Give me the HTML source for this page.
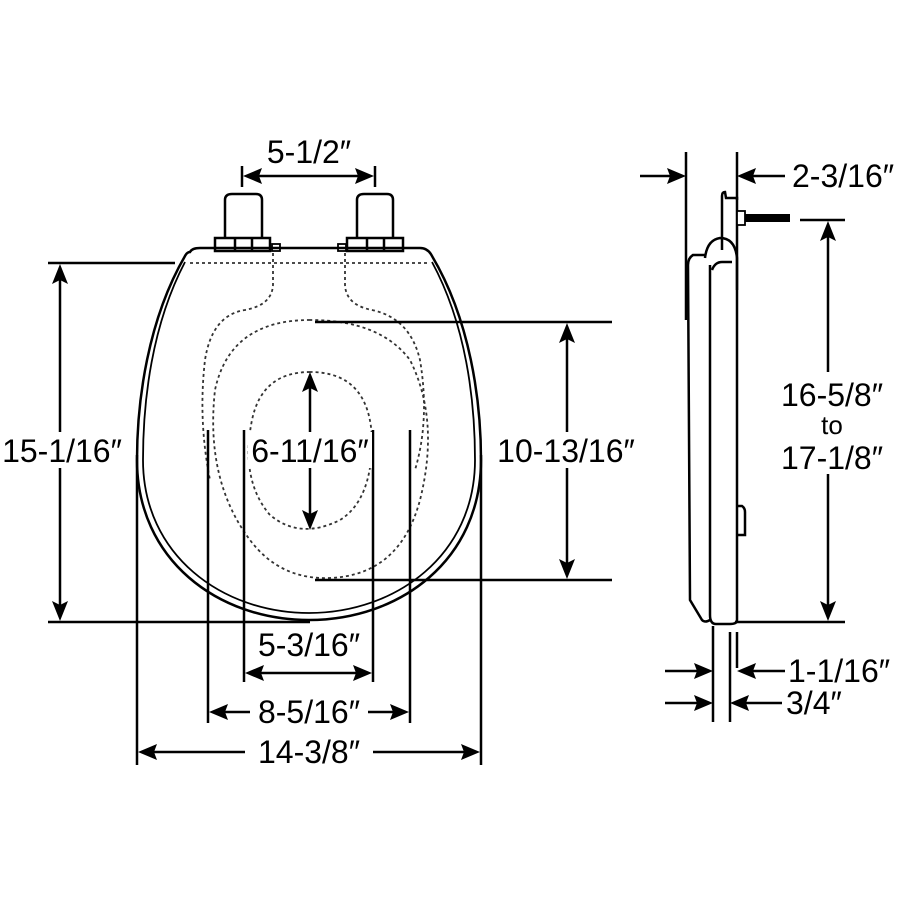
<!DOCTYPE html>
<html><head><style>
html,body{margin:0;padding:0;background:#fff;}
svg{display:block;}
text{font-family:"Liberation Sans",Arial,sans-serif;fill:#000;}
</style></head><body>
<svg width="900" height="900" viewBox="0 0 900 900" xmlns="http://www.w3.org/2000/svg">
<g fill="none" stroke="#000" stroke-width="2.5">
<!-- seat outline -->
<path d="M190 252 Q192 248 200 248 L420 248 Q428 248 432 256 C470 320 481 400 481 460 C481 560 400 620 309 620 C218 620 137 560 137 460 C137 400 148 320 185 256 Q187 252 190 252 Z"/>
<path d="M185 262 C152 325 143 400 143 460 C143 555 222 613 309 613 C396 613 475 555 475 460 C475 400 466 325 432 262" stroke-width="1.8"/>
<!-- hinges -->
<path d="M225 238 L225 200 Q225 194 232 194 L256 194 Q262 194 262 200 L262 238"/>
<rect x="215" y="238" width="55" height="13"/><line x1="235" y1="238" x2="235" y2="251"/><line x1="252" y1="238" x2="252" y2="251"/>
<rect x="272" y="244" width="8" height="7" stroke-width="1.8"/>
<path d="M357 238 L357 200 Q357 194 364 194 L387 194 Q393 194 393 200 L393 238"/>
<rect x="347" y="238" width="56" height="13"/><line x1="367" y1="238" x2="367" y2="251"/><line x1="384" y1="238" x2="384" y2="251"/>
<rect x="338" y="244" width="8" height="7" stroke-width="1.8"/>
</g>
<!-- dotted -->
<g fill="none" stroke="#333" stroke-width="1.8" stroke-dasharray="3,3">
<line x1="190" y1="263" x2="430" y2="263"/>
<path d="M273 253 L273 285 Q272 305 245 310 Q212 315 205 360 Q198 420 210 480"/>
<path d="M345 253 L345 285 Q346 305 372 310 Q410 318 420 360 Q430 420 415 470"/>
<path d="M310 320 Q230 320 215 390 Q205 480 250 540 Q280 580 330 578 Q400 575 420 500 Q440 420 410 360 Q380 320 310 320 Z"/>
<path d="M310 372 Q262 372 252 420 Q240 480 270 515 Q300 540 340 520 Q372 500 372 440 Q370 372 310 372 Z"/>
</g>
<!-- dimension lines -->
<g stroke="#000" stroke-width="2.5" fill="none">
<line x1="242" y1="166" x2="242" y2="187"/><line x1="375" y1="166" x2="375" y2="187"/>
<line x1="250" y1="176" x2="367" y2="176"/>
<line x1="48" y1="263" x2="175" y2="263"/><line x1="48" y1="622" x2="310" y2="622"/>
<line x1="60" y1="275" x2="60" y2="610"/>
<line x1="315" y1="322" x2="612" y2="322"/><line x1="315" y1="580" x2="612" y2="580"/>
<line x1="567" y1="334" x2="567" y2="568"/>
<line x1="310" y1="384" x2="310" y2="518"/>
<line x1="137" y1="455" x2="137" y2="765"/><line x1="481" y1="455" x2="481" y2="765"/>
<line x1="208" y1="430" x2="208" y2="723"/><line x1="410" y1="430" x2="410" y2="723"/>
<line x1="244" y1="430" x2="244" y2="682"/><line x1="373" y1="430" x2="373" y2="682"/>
<line x1="250" y1="673" x2="367" y2="673"/>
<line x1="214" y1="712" x2="250" y2="712"/><line x1="368" y1="712" x2="404" y2="712"/>
<line x1="143" y1="752" x2="245" y2="752"/><line x1="373" y1="752" x2="475" y2="752"/>
<!-- side -->
<line x1="686" y1="152" x2="686" y2="320"/><line x1="737" y1="152" x2="737" y2="200"/>
<line x1="640" y1="176" x2="680" y2="176"/><line x1="743" y1="176" x2="785" y2="176"/>
<line x1="800" y1="220" x2="845" y2="220"/><line x1="735" y1="622" x2="845" y2="622"/>
<line x1="828" y1="232" x2="828" y2="372"/><line x1="828" y1="474" x2="828" y2="610"/>
<line x1="713" y1="626" x2="713" y2="722"/><line x1="730" y1="632" x2="730" y2="722"/><line x1="737" y1="632" x2="737" y2="668"/>
<line x1="665" y1="671" x2="707" y2="671"/><line x1="743" y1="671" x2="785" y2="671"/>
<line x1="665" y1="703" x2="707" y2="703"/><line x1="736" y1="703" x2="782" y2="703"/>
<!-- side seat -->
<path d="M722 250 L722 196 Q722 192 725 192 L726 198 L737 198 L737 290"/>
<path d="M705 258 Q707 240 720 238 Q735 238 737 258 L737 620 Q737 624 730 624 L716 624 Q710 624 710 615 L710 265"/>
<path d="M705 255 L693 255 Q688 258 688 265 L690 600 L702 620 Q705 623 710 620"/>
<path d="M712 270 Q715 262 722 262 L732 262"/>
<path d="M737 506 L742 506 Q745 508 745 512 L745 535 L737 535"/>
</g>
<rect x="740" y="214" width="50" height="8" fill="#000"/>
<rect x="737" y="211" width="8" height="14" fill="#fff" stroke="#000" stroke-width="1.8"/>
<!-- arrowheads -->
<g fill="#000">
<polygon points="243,176 262,168 259,176 262,184"/><polygon points="374,176 355,168 358,176 355,184"/>
<polygon points="60,264 52,284 60,280 68,284"/><polygon points="60,621 52,601 60,605 68,601"/>
<polygon points="567,323 559,343 567,339 575,343"/><polygon points="567,579 559,559 567,563 575,559"/>
<polygon points="310,372 302,392 310,388 318,392"/><polygon points="310,530 302,510 310,514 318,510"/>
<polygon points="245,673 264,665 261,673 264,681"/><polygon points="372,673 353,665 356,673 353,681"/>
<polygon points="209,712 228,704 225,712 228,720"/><polygon points="409,712 390,704 393,712 390,720"/>
<polygon points="138,752 157,744 154,752 157,760"/><polygon points="480,752 461,744 464,752 461,760"/>
<polygon points="686,176 667,168 670,176 667,184"/><polygon points="737,176 756,168 753,176 756,184"/>
<polygon points="828,221 820,241 828,237 836,241"/><polygon points="828,621 820,601 828,605 836,601"/>
<polygon points="713,671 694,663 697,671 694,679"/><polygon points="737,671 756,663 753,671 756,679"/>
<polygon points="713,703 694,695 697,703 694,711"/><polygon points="730,703 749,695 746,703 749,711"/>
</g>
<!-- text backgrounds -->
<g fill="#fff">
<rect x="0" y="432" width="126" height="36"/>
<rect x="496" y="432" width="140" height="36"/>
<rect x="248" y="432" width="124" height="36"/>
</g>
<g font-size="32">
<text x="309" y="163" text-anchor="middle">5-1/2″</text>
<text x="62" y="462" text-anchor="middle">15-1/16″</text>
<text x="566" y="462" text-anchor="middle">10-13/16″</text>
<text x="310" y="462" text-anchor="middle">6-11/16″</text>
<text x="309" y="656" text-anchor="middle">5-3/16″</text>
<text x="309" y="723" text-anchor="middle">8-5/16″</text>
<text x="309" y="763" text-anchor="middle">14-3/8″</text>
<text x="792" y="187">2-3/16″</text>
<text x="832" y="406" text-anchor="middle">16-5/8″</text>
<text x="832" y="434" text-anchor="middle" font-size="26">to</text>
<text x="832" y="469" text-anchor="middle">17-1/8″</text>
<text x="788" y="682">1-1/16″</text>
<text x="786" y="714">3/4″</text>
</g>
</svg>
</body></html>
